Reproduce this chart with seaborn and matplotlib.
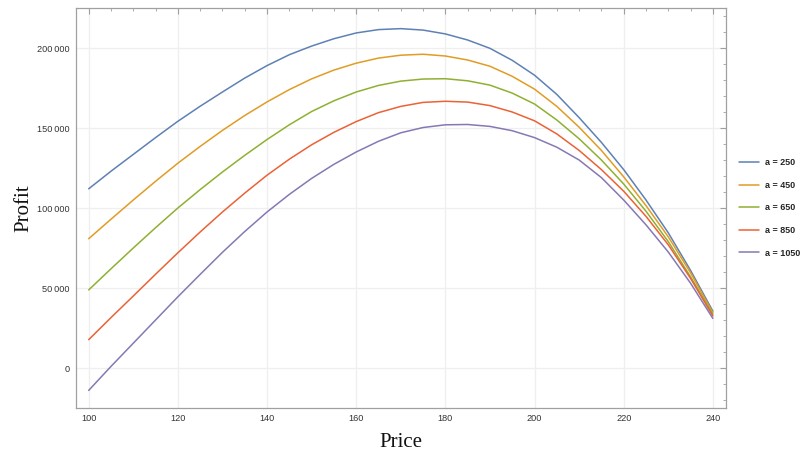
import numpy as np
import pandas as pd
import matplotlib
matplotlib.use("Agg")
import matplotlib.pyplot as plt
from matplotlib.ticker import MultipleLocator, FuncFormatter
import seaborn as sns

# values (every 5 price units)
prices = [100, 105, 110, 115, 120, 125, 130, 135, 140, 145, 150, 155, 160, 165, 170,
          175, 180, 185, 190, 195, 200, 205, 210, 215, 220, 225, 230, 235, 240]
a_values = [250, 450, 650, 850, 1050]

profit_a250 = [112000, 123000, 133500, 144000, 154200, 163600, 172500, 181200, 189000,
               195800, 201200, 205800, 209400, 211500, 212100, 211200, 208800, 205000,
               199800, 192300, 183000, 171000, 156500, 141000, 124000, 105000, 84500,
               61000, 35500]
profit_a450 = [80800, 93000, 105000, 116700, 128000, 138500, 148500, 157800, 166300,
               174000, 180700, 186200, 190500, 193700, 195500, 196100, 195000, 192500,
               188600, 182300, 174300, 163500, 150500, 136000, 119500, 101500, 82000,
               59500, 34500]
profit_a650 = [48800, 62000, 75000, 87700, 100000, 111500, 122500, 132900, 142800,
               152000, 160300, 167000, 172500, 176600, 179300, 180600, 180800, 179500,
               176800, 171800, 165000, 155000, 143300, 130000, 115000, 98000, 79000,
               57000, 33500]
profit_a850 = [17700, 31500, 45000, 58600, 72000, 85000, 97500, 109300, 120500,
               130500, 139500, 147300, 154000, 159600, 163500, 166000, 166700, 166200,
               164000, 160000, 154500, 146300, 136000, 124000, 110500, 94800, 77000,
               56000, 32500]
profit_a1050 = [-14000, 1000, 15500, 30000, 44500, 58500, 72300, 85300, 97500,
                108500, 118500, 127300, 135000, 141700, 147000, 150300, 152000, 152200,
                151000, 148300, 144000, 138000, 130000, 119000, 105000, 89500, 72500,
                53000, 31000]

colors = ["#5E81B5", "#E19C24", "#8FB032", "#EB6235", "#8778B3"]

series = [profit_a250, profit_a450, profit_a650, profit_a850, profit_a1050]
rows = []
for a, vals in zip(a_values, series):
    for p, v in zip(prices, vals):
        rows.append({"Price": p, "Profit": v, "a": f"a = {a}"})
df = pd.DataFrame(rows)

sns.set_style("white")
plt.rcParams['font.family'] = ['Liberation Sans', 'DejaVu Sans']

fig = plt.figure(figsize=(8.05, 4.59), dpi=100)
ax = fig.add_axes([76 / 805, 51 / 459, 650 / 805, 400 / 459])

sns.lineplot(data=df, x="Price", y="Profit", hue="a", palette=colors,
             linewidth=1.1, ax=ax, legend=True)

ax.set_xlim(97.15, 242.95)
ax.set_ylim(-25000, 225000)

ax.xaxis.set_major_locator(MultipleLocator(20))
ax.xaxis.set_minor_locator(MultipleLocator(5))
ax.yaxis.set_major_locator(MultipleLocator(50000))
ax.yaxis.set_minor_locator(MultipleLocator(10000))
ax.yaxis.set_major_formatter(FuncFormatter(lambda v, _: f"{int(v):,}".replace(",", "\u2009")))

ax.grid(True, which="major", color="#efefef", linewidth=0.9)
ax.set_axisbelow(True)

for s in ax.spines.values():
    s.set_color("#a0a0a0")
    s.set_linewidth(0.9)

ax.tick_params(which="both", direction="in", top=True, right=True,
               color="#a0a0a0", labelsize=6.6, labelcolor="#333333")
ax.tick_params(which="major", length=4, width=0.8, pad=4.5)
ax.tick_params(which="minor", length=2.2, width=0.6)

ax.set_xlabel("Price", family="Liberation Serif", fontsize=15, color="#111111", labelpad=7)
ax.set_ylabel("Profit", family="Liberation Serif", fontsize=15, color="#111111", labelpad=3)

handles, labels = ax.get_legend_handles_labels()
ax.legend(handles, labels, loc="center left", bbox_to_anchor=(1.008, 0.5),
          frameon=False, prop={"size": 6.5, "weight": "bold"},
          handlelength=2.2, labelspacing=1.5, handletextpad=0.6)

fig.savefig("out.png", dpi=100)
